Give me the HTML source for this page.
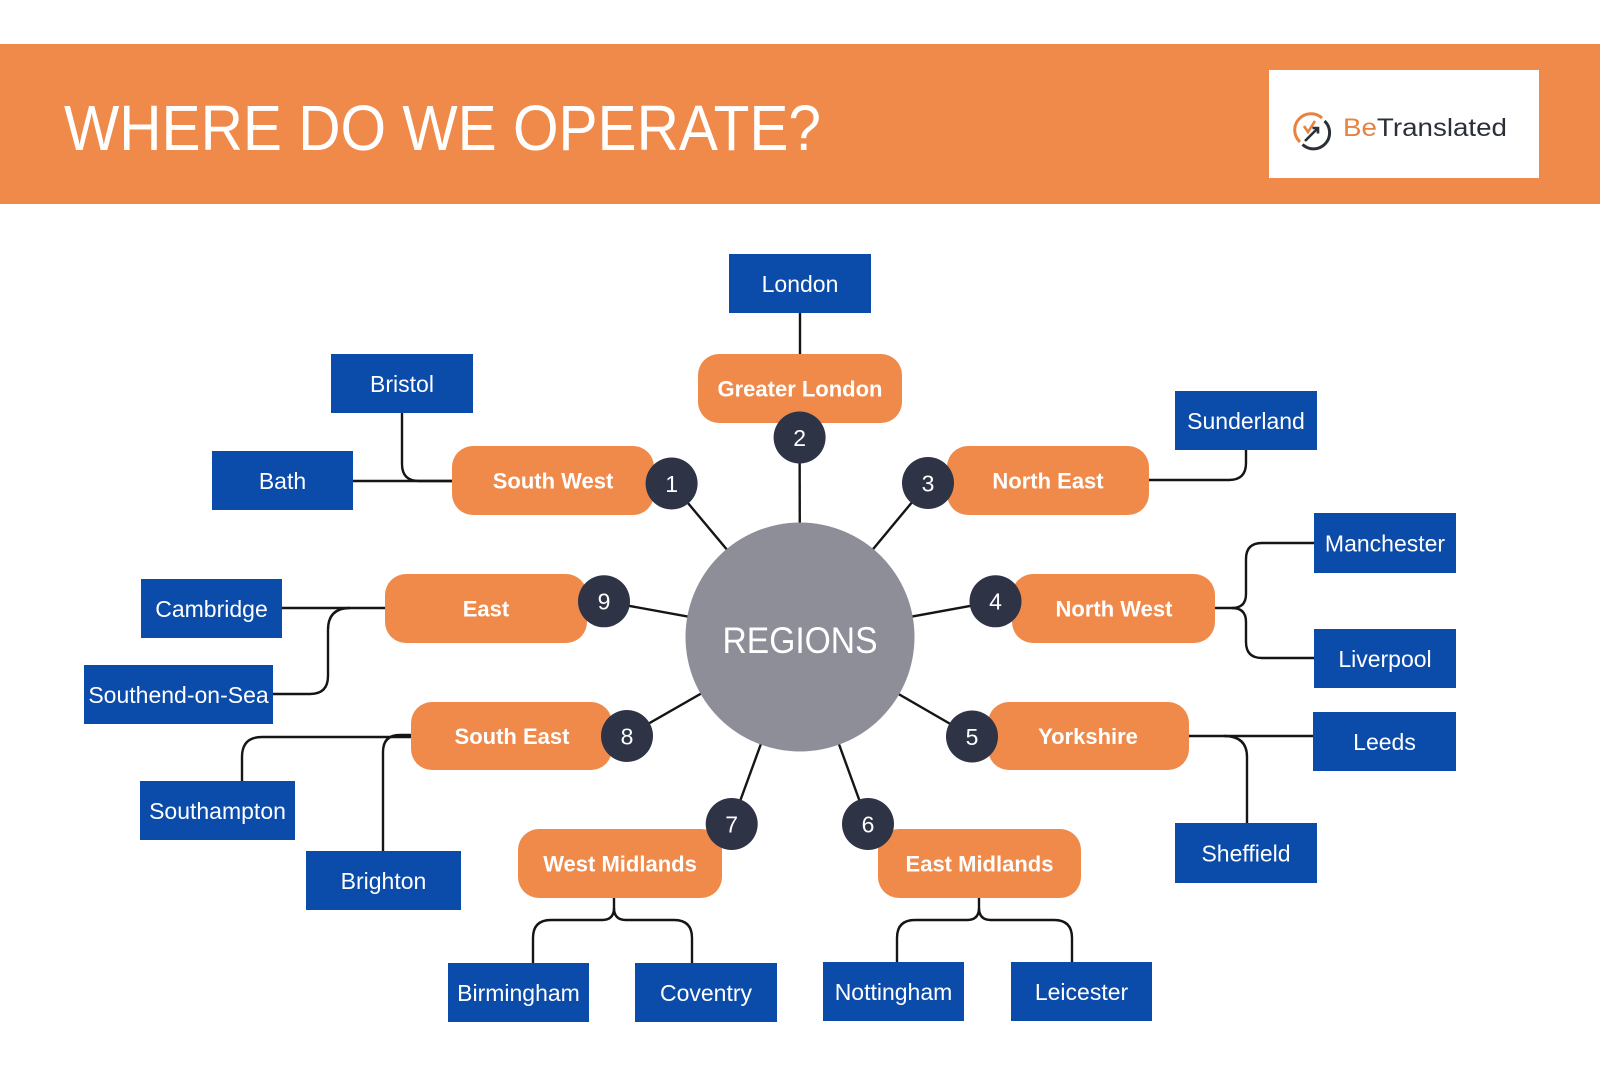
<!DOCTYPE html>
<html>
<head>
<meta charset="utf-8">
<style>
  html,body{margin:0;padding:0;background:#fff;}
  body{width:1600px;height:1067px;overflow:hidden;}
  svg{display:block;}
  .pill{fill:#EF8A4B;}
  .box{fill:#0B4BAA;}
  .badge{fill:#2E3346;}
  .pt{font-family:"Liberation Sans",sans-serif;font-weight:bold;font-size:22px;fill:#fff;text-anchor:middle;}
  .bt{font-family:"Liberation Sans",sans-serif;font-size:23px;fill:#fff;text-anchor:middle;}
  .dg{font-family:"Liberation Sans",sans-serif;font-size:23px;fill:#fff;text-anchor:middle;}
  .ln{stroke:#151515;stroke-width:2.4;fill:none;}
</style>
</head>
<body>
<svg width="1600" height="1067" viewBox="0 0 1600 1067" xmlns="http://www.w3.org/2000/svg">
  <rect x="0" y="0" width="1600" height="1067" fill="#ffffff"/>

  <!-- Header -->
  <rect x="0" y="44" width="1600" height="160" fill="#EF8A4B"/>
  <text x="64" y="150" font-family="Liberation Sans, sans-serif" font-size="64" fill="#ffffff" textLength="757" lengthAdjust="spacingAndGlyphs">WHERE DO WE OPERATE?</text>

  <!-- Logo -->
  <rect x="1269" y="70" width="270" height="108" fill="#ffffff"/>
  <path d="M1322,118 A16,16 0 0 0 1300,142" stroke="#E8823F" stroke-width="3" fill="none"/>
  <path d="M1324.5,121 A16,16 0 0 1 1302.5,144.5" stroke="#2B2F3A" stroke-width="3" fill="none"/>
  <polyline points="1304,126 1308,132 1315,121" stroke="#E8823F" stroke-width="2.6" fill="none"/>
  <path d="M1305,141 L1318,128 M1312.5,128 L1318,128 L1318,133.5" stroke="#2B2F3A" stroke-width="2.6" fill="none"/>
  <text x="1343" y="136" font-family="Liberation Sans, sans-serif" font-size="25" textLength="164" lengthAdjust="spacingAndGlyphs"><tspan fill="#E8823F">Be</tspan><tspan fill="#2B2F3A">Translated</tspan></text>

  <!-- Connectors: badges to centre -->
  <g class="ln">
    <line x1="671.6" y1="483.5" x2="800" y2="637"/>
    <line x1="799.6" y1="437.5" x2="800" y2="637"/>
    <line x1="928" y1="483" x2="800" y2="637"/>
    <line x1="995.5" y1="601.3" x2="800" y2="637"/>
    <line x1="972" y1="736.5" x2="800" y2="637"/>
    <line x1="868" y1="824" x2="800" y2="637"/>
    <line x1="731.7" y1="824" x2="800" y2="637"/>
    <line x1="627" y1="736" x2="800" y2="637"/>
    <line x1="604" y1="601.3" x2="800" y2="637"/>
  </g>

  <!-- Connectors: pills to cities -->
  <g class="ln">
    <line x1="800" y1="313" x2="800" y2="356"/>
    <path d="M402,412 V464 Q402,481 419,481 H453"/>
    <path d="M353,481 H453"/>
    <path d="M1147,480 H1229 Q1246,480 1246,463 V450"/>
    <path d="M1213,608 H1232 Q1246,608 1246,594 V559 Q1246,543 1262,543 H1315"/>
    <path d="M1232,608 Q1246,608 1246,622 V642 Q1246,658 1262,658 H1315"/>
    <path d="M281,608 H387"/>
    <path d="M272,694 H310 Q328,694 328,676 V630 Q328,608 350,608"/>
    <path d="M242,782 V757 Q242,737 262,737 H413"/>
    <path d="M383,852 V752 Q383,735 400,735 H413"/>
    <path d="M1187,736 H1315"/>
    <path d="M1247,824 V757 Q1247,736 1224,736"/>
    <path d="M614,896 V908 Q614,920 602,920 H551 Q533,920 533,938 V964"/>
    <path d="M614,908 Q614,920 626,920 H674 Q692,920 692,938 V964"/>
    <path d="M979,896 V908 Q979,920 967,920 H915 Q897,920 897,938 V963"/>
    <path d="M979,908 Q979,920 991,920 H1054 Q1072,920 1072,938 V963"/>
  </g>

  <!-- Central circle -->
  <circle cx="800" cy="637" r="114.5" fill="#8E8E99"/>
  <text x="800" y="653" font-family="Liberation Sans, sans-serif" font-size="37" fill="#ffffff" text-anchor="middle" textLength="155" lengthAdjust="spacingAndGlyphs">REGIONS</text>

  <!-- Pills -->
  <rect class="pill" x="698" y="354" width="204" height="69" rx="21"/>
  <text class="pt" x="800" y="396.5">Greater London</text>
  <rect class="pill" x="452" y="446" width="202" height="69" rx="21"/>
  <text class="pt" x="553" y="488.5">South West</text>
  <rect class="pill" x="947" y="446" width="202" height="69" rx="21"/>
  <text class="pt" x="1048" y="488.5">North East</text>
  <rect class="pill" x="385" y="574" width="202" height="69" rx="21"/>
  <text class="pt" x="486" y="616.5">East</text>
  <rect class="pill" x="1012" y="574" width="203" height="69" rx="21"/>
  <text class="pt" x="1114" y="616.5">North West</text>
  <rect class="pill" x="411" y="702" width="201" height="68" rx="21"/>
  <text class="pt" x="512" y="744">South East</text>
  <rect class="pill" x="988" y="702" width="201" height="68" rx="21"/>
  <text class="pt" x="1088" y="744">Yorkshire</text>
  <rect class="pill" x="518" y="829" width="204" height="69" rx="21"/>
  <text class="pt" x="620" y="871.5">West Midlands</text>
  <rect class="pill" x="878" y="829" width="203" height="69" rx="21"/>
  <text class="pt" x="979.5" y="871.5">East Midlands</text>

  <!-- Badges -->
  <circle class="badge" cx="671.6" cy="483.5" r="26"/><text class="dg" x="671.6" y="491.8">1</text>
  <circle class="badge" cx="799.6" cy="437.5" r="26"/><text class="dg" x="799.6" y="445.8">2</text>
  <circle class="badge" cx="928" cy="483" r="26"/><text class="dg" x="928" y="491.3">3</text>
  <circle class="badge" cx="995.5" cy="601.3" r="26"/><text class="dg" x="995.5" y="609.6">4</text>
  <circle class="badge" cx="972" cy="736.5" r="26"/><text class="dg" x="972" y="744.8">5</text>
  <circle class="badge" cx="868" cy="824" r="26"/><text class="dg" x="868" y="832.3">6</text>
  <circle class="badge" cx="731.7" cy="824" r="26"/><text class="dg" x="731.7" y="832.3">7</text>
  <circle class="badge" cx="627" cy="736" r="26"/><text class="dg" x="627" y="744.3">8</text>
  <circle class="badge" cx="604" cy="601.3" r="26"/><text class="dg" x="604" y="609.6">9</text>

  <!-- City boxes -->
  <rect class="box" x="729" y="254" width="142" height="59"/><text class="bt" x="800" y="292">London</text>
  <rect class="box" x="331" y="354" width="142" height="59"/><text class="bt" x="402" y="392">Bristol</text>
  <rect class="box" x="212" y="451" width="141" height="59"/><text class="bt" x="282.5" y="489">Bath</text>
  <rect class="box" x="1175" y="391" width="142" height="59"/><text class="bt" x="1246" y="429">Sunderland</text>
  <rect class="box" x="1314" y="513" width="142" height="60"/><text class="bt" x="1385" y="551.5">Manchester</text>
  <rect class="box" x="1314" y="629" width="142" height="59"/><text class="bt" x="1385" y="667">Liverpool</text>
  <rect class="box" x="141" y="579" width="141" height="59"/><text class="bt" x="211.5" y="617">Cambridge</text>
  <rect class="box" x="84" y="665" width="189" height="59"/><text class="bt" x="178.5" y="703">Southend-on-Sea</text>
  <rect class="box" x="1313" y="712" width="143" height="59"/><text class="bt" x="1384.5" y="750">Leeds</text>
  <rect class="box" x="140" y="781" width="155" height="59"/><text class="bt" x="217.5" y="819">Southampton</text>
  <rect class="box" x="306" y="851" width="155" height="59"/><text class="bt" x="383.5" y="889">Brighton</text>
  <rect class="box" x="1175" y="823" width="142" height="60"/><text class="bt" x="1246" y="861.5">Sheffield</text>
  <rect class="box" x="448" y="963" width="141" height="59"/><text class="bt" x="518.5" y="1001">Birmingham</text>
  <rect class="box" x="635" y="963" width="142" height="59"/><text class="bt" x="706" y="1001">Coventry</text>
  <rect class="box" x="823" y="962" width="141" height="59"/><text class="bt" x="893.5" y="1000">Nottingham</text>
  <rect class="box" x="1011" y="962" width="141" height="59"/><text class="bt" x="1081.5" y="1000">Leicester</text>
</svg>
</body>
</html>
